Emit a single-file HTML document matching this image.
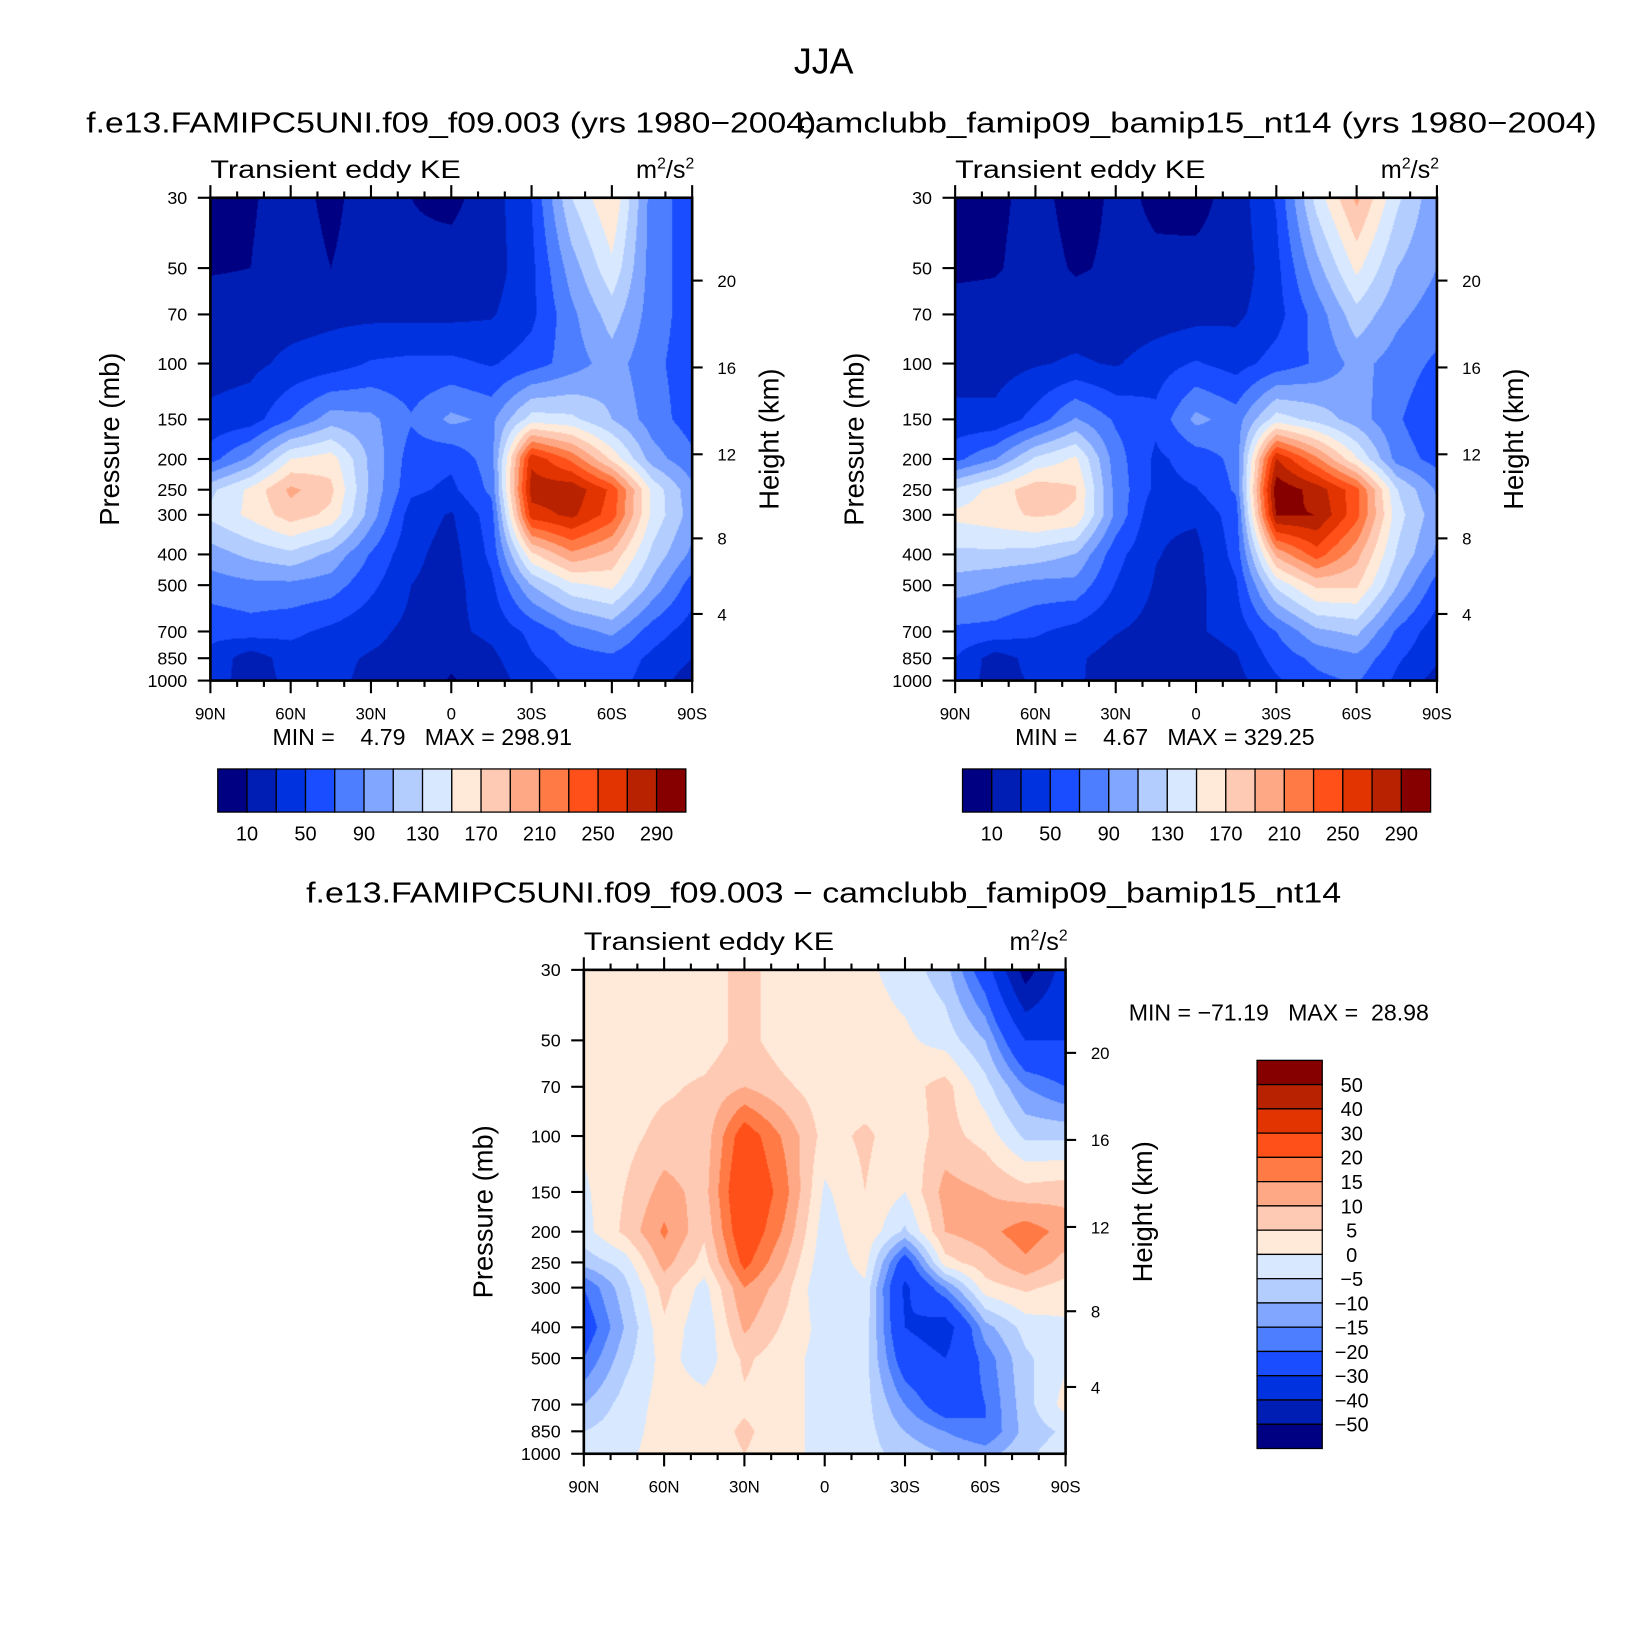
<!DOCTYPE html>
<html><head><meta charset="utf-8">
<style>
html,body{margin:0;padding:0;background:#fff;width:1641px;height:1641px;overflow:hidden}
#root{position:absolute;left:0;top:0;width:1560px;height:1560px;transform:scale(1.05192);transform-origin:0 0}
canvas{position:absolute}
svg{position:absolute;left:0;top:0}
text{font-family:"Liberation Sans",sans-serif;fill:#000}
</style></head>
<body>
<div id="root">
<canvas id="c1" style="left:200px;top:188px" width="458" height="459"></canvas>
<canvas id="c2" style="left:908px;top:188px" width="458" height="459"></canvas>
<canvas id="c3" style="left:555px;top:922px" width="458" height="460"></canvas>
<svg id="s" width="1560" height="1560">
<text x="783" y="70" font-size="34" text-anchor="middle">JJA</text>
<text x="429" y="126" font-size="27" text-anchor="middle" textLength="694" lengthAdjust="spacingAndGlyphs">f.e13.FAMIPC5UNI.f09_f09.003 (yrs 1980−2004)</text>
<text x="1138" y="126" font-size="27" text-anchor="middle" textLength="760" lengthAdjust="spacingAndGlyphs">camclubb_famip09_bamip15_nt14 (yrs 1980−2004)</text>
<text x="783" y="858" font-size="27" text-anchor="middle" textLength="984" lengthAdjust="spacingAndGlyphs">f.e13.FAMIPC5UNI.f09_f09.003 − camclubb_famip09_bamip15_nt14</text>
<text x="259" y="708" font-size="22" xml:space="preserve">MIN =    4.79   MAX = 298.91</text>
<text x="965" y="708" font-size="22" xml:space="preserve">MIN =    4.67   MAX = 329.25</text>
<text x="1073" y="970" font-size="22" xml:space="preserve">MIN = −71.19   MAX =  28.98</text>
</svg>
</div>
<script>
const pressures=[30,50,70,100,150,200,250,300,400,500,700,850,1000];
const latTickLabels=["90N","60N","30N","0","30S","60S","90S"];
const pressureTickLabels=[30,50,70,100,150,200,250,300,400,500,700,850,1000];
const heightTickLabels=[20,16,12,8,4];
const levelsKE=[10,30,50,70,90,110,130,150,170,190,210,230,250,270,290];
const levelsDiff=[-50,-40,-30,-20,-15,-10,-5,0,5,10,15,20,30,40,50];
const cbLabelsKE=[10,50,90,130,170,210,250,290];
const cbLabelsDiff=[50,40,30,20,15,10,5,0,-5,-10,-15,-20,-30,-40,-50];
const palette=["#000082","#001eb4","#0032e0","#1a4dff","#4c7eff","#80a6ff","#b3cdff","#d8e9ff","#ffe9d8","#ffcab3","#ffa885","#ff7a45","#ff5019","#e23400","#b82200","#870000"];
// columns 90N..90S every 15 deg, rows = pressures
const ke1=[
[5,8,18,5,20,10,5,20,50,130,170,80,60],
[8,10,20,10,20,14,18,20,45,100,145,80,60],
[20,20,22,25,25,25,25,28,45,85,120,80,60],
[22,25,35,40,52,55,55,48,60,80,100,75,60],
[35,40,70,100,95,72,95,85,140,135,110,80,60],
[62,95,150,160,105,60,55,80,265,225,165,100,75],
[125,155,195,175,105,55,45,75,280,285,245,145,95],
[135,155,180,165,100,40,28,60,260,275,240,145,100],
[100,115,125,105,68,35,22,55,165,205,185,125,85],
[80,85,85,80,55,30,22,45,110,145,155,105,60],
[55,60,55,45,35,25,25,35,55,80,95,60,40],
[45,18,40,35,28,25,15,25,48,60,65,45,30],
[40,20,35,35,25,22,8,20,40,55,60,40,20]];
const ke2=[
[3,6,16,3,13,8,3,19,52,138,195,135,95],
[6,8,18,8,13,12,16,18,44,102,155,110,90],
[18,18,18,19,15,19,23,26,42,78,123,95,80],
[21,22,28,33,28,41,52,42,58,73,97,81,66],
[36,35,58,92,67,55,96,80,140,123,100,73,52],
[64,89,134,154,79,46,58,76,271,215,152,82,62],
[133,158,183,172,83,45,49,73,305,282,237,131,87],
[155,162,173,167,85,33,33,61,292,290,237,139,97],
[125,125,121,109,57,31,24,57,195,240,197,128,86],
[100,92,83,83,49,28,24,48,135,175,173,111,61],
[65,63,53,43,31,23,27,38,70,105,115,67,38],
[50,20,38,33,22,23,17,28,58,75,85,53,34],
[43,21,33,33,20,20,10,23,47,65,72,46,22]];
const keDiff=[
[2,2,2,2,7,2,2,1,-2,-8,-25,-55,-35],
[2,2,2,2,7,2,2,2,1,-2,-10,-30,-30],
[2,2,4,6,10,6,2,2,3,7,-3,-15,-20],
[1,3,7,7,24,14,3,6,2,7,3,-6,-6],
[-1,5,12,8,28,17,-1,5,0,12,10,7,8],
[-2,6,16,6,26,14,-3,4,-6,10,13,18,13],
[-8,-3,12,3,22,10,-4,2,-25,3,8,14,8],
[-20,-7,7,-2,15,7,-5,-1,-32,-15,3,6,3],
[-25,-10,4,-4,11,4,-2,-2,-30,-35,-12,-3,-1],
[-20,-7,2,-3,6,2,-2,-3,-25,-30,-18,-6,-1],
[-10,-3,2,2,4,2,-2,-3,-15,-25,-20,-7,2],
[-5,-2,2,2,6,2,-2,-3,-10,-15,-20,-8,-4],
[-3,-1,2,2,5,2,-2,-3,-7,-10,-12,-6,-2]];

function hex(c){return [parseInt(c.substr(1,2),16),parseInt(c.substr(3,2),16),parseInt(c.substr(5,2),16)];}
const rgb=palette.map(hex);
function drawField(id,data,levels){
  const cv=document.getElementById(id),ctx=cv.getContext('2d');
  const W=cv.width,H=cv.height,img=ctx.createImageData(W,H);
  const L=Math.log(1000/30),nc=data[0].length-1;
  for(let py=0;py<H;py++){
    const lp=Math.log(30)+L*(py+0.5)/H;
    let j=0;while(j<pressures.length-2&&Math.log(pressures[j+1])<lp)j++;
    const t=Math.min(1,Math.max(0,(lp-Math.log(pressures[j]))/(Math.log(pressures[j+1])-Math.log(pressures[j]))));
    for(let px=0;px<W;px++){
      const fx=(px+0.5)/W*nc;let i=Math.min(nc-1,Math.floor(fx));const u=fx-i;
      const v=(data[j][i]*(1-u)+data[j][i+1]*u)*(1-t)+(data[j+1][i]*(1-u)+data[j+1][i+1]*u)*t;
      let k=0;while(k<levels.length&&v>=levels[k])k++;
      const c=rgb[k],o=(py*W+px)*4;img.data[o]=c[0];img.data[o+1]=c[1];img.data[o+2]=c[2];img.data[o+3]=255;
    }
  }
  ctx.putImageData(img,0,0);
}
drawField('c1',ke1,levelsKE);
drawField('c2',ke2,levelsKE);
drawField('c3',keDiff,levelsDiff);

const NS="http://www.w3.org/2000/svg",svg=document.getElementById('s');
function el(tag,attrs,txt){const e=document.createElementNS(NS,tag);for(const k in attrs)e.setAttribute(k,attrs[k]);if(txt!==undefined)e.textContent=txt;svg.appendChild(e);return e;}
function zToP(z){z*=1000;return z<11000?1013.25*Math.pow(1-2.2558e-5*z,5.2559):226.32*Math.exp(-(z-11000)/6341.6);}
function axes(P){
  const yP=p=>P.top+P.H*Math.log(p/30)/Math.log(1000/30);
  const xL=lat=>P.left+P.W*(90-lat)/180;
  for(let lat=90;lat>=-90;lat-=10){
    const major=lat%30===0,len=major?12:6,x=xL(lat);
    let t=el('line',{x1:x,x2:x,y1:P.top,y2:P.top-len,stroke:'#000','stroke-width':2});
    
    t=el('line',{x1:x,x2:x,y1:P.top+P.H,y2:P.top+P.H+len,stroke:'#000','stroke-width':2});
    
  }
  latTickLabels.forEach((s,i)=>{
    const t=el('text',{x:P.left+P.W*i/6,y:P.top+P.H+37,'font-size':16,'text-anchor':'middle'},s);
    
  });
  pressureTickLabels.forEach(p=>{
    const y=yP(p);
    let t=el('line',{x1:P.left-12,x2:P.left,y1:y,y2:y,stroke:'#000','stroke-width':2});
    
    t=el('text',{x:P.left-22,y:y+6,'font-size':17,'text-anchor':'end'},String(p));
    
  });
  heightTickLabels.forEach(z=>{
    const y=yP(zToP(z));
    let t=el('line',{x1:P.left+P.W,x2:P.left+P.W+10,y1:y,y2:y,stroke:'#000','stroke-width':2});
    
    t=el('text',{x:P.left+P.W+24,y:y+6,'font-size':16},String(z));
    
  });
  let b=el('rect',{x:P.left,y:P.top,width:P.W,height:P.H,fill:'none',stroke:'#000','stroke-width':2.5});
  
  b=el('text',{x:P.left,y:P.top-19,'font-size':24,textLength:238,lengthAdjust:'spacingAndGlyphs'},'Transient eddy KE');
  
  b=el('text',{x:P.left+P.W+2,y:P.top-19,'font-size':24,'text-anchor':'end'});
  b.innerHTML='m<tspan dy="-9" font-size="15">2</tspan><tspan dy="9">/s</tspan><tspan dy="-9" font-size="15">2</tspan>';
  
  const cy=P.top+P.H/2;
  b=el('text',{x:0,y:0,'font-size':26,'text-anchor':'middle',transform:`translate(${P.left-87},${cy}) rotate(-90)`},'Pressure (mb)');
  
  b=el('text',{x:0,y:0,'font-size':26,'text-anchor':'middle',transform:`translate(${P.left+P.W+82},${cy}) rotate(-90)`},'Height (km)');
  
}
axes({left:200,top:188,W:458,H:459});
axes({left:908,top:188,W:458,H:459});
axes({left:555,top:922,W:458,H:460});

function hbar(x0){
  const w=445/16;
  palette.forEach((c,i)=>{
    const r=el('rect',{x:x0+i*w,y:731,width:w,height:41,fill:c,stroke:'#000','stroke-width':1.2});
    
  });
  cbLabelsKE.forEach((v,i)=>{
    const t=el('text',{x:x0+w*(1+2*i),y:799,'font-size':19,'text-anchor':'middle'},String(v));
    
  });
}
hbar(207);hbar(915);
(function(){
  const h=369/16;
  palette.slice().reverse().forEach((c,i)=>{
    const r=el('rect',{x:1195,y:1008+i*h,width:62,height:h,fill:c,stroke:'#000','stroke-width':1.2});
    
  });
  cbLabelsDiff.forEach((v,i)=>{
    const t=el('text',{x:1285,y:1008+h*(i+1)+7,'font-size':19,'text-anchor':'middle'},String(v).replace('-','−'));
    
  });
})();
</script>
</body></html>
